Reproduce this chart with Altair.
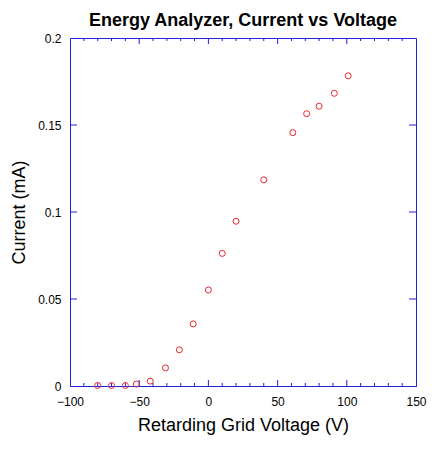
import altair as alt
import pandas as pd

voltage = [-80, -70, -60, -52, -42, -31, -21, -11, 0, 10, 20, 40, 61, 71, 80, 91, 101]
current = [0.0003, 0.0003, 0.0003, 0.0011, 0.0028, 0.0104, 0.0208, 0.0357, 0.0552,
           0.0762, 0.0947, 0.1185, 0.1456, 0.1565, 0.1608, 0.1682, 0.1783]

x_labels = [-100, -50, 0, 50, 100, 150]
x_major = [-50, 0, 50, 100]
x_minor = [v for v in range(-90, 150, 10) if v % 50 != 0]
y_labels = [0, 0.05, 0.1, 0.15, 0.2]
y_major = [0.05, 0.1, 0.15]

W, H = 346, 348
BLUE = "#2020e0"
RED = "#e8262a"
FONT = "Liberation Sans"

xscale = alt.Scale(domain=[-100, 150], nice=False, zero=False)
yscale = alt.Scale(domain=[0, 0.2], nice=False, zero=False)

xaxis = alt.Axis(values=x_labels, ticks=False, grid=False, domainColor=BLUE,
                 labelFlush=False, labelPadding=10, labelFontSize=12, labelColor="black",
                 title="Retarding Grid Voltage (V)", titleFontSize=18, titleFontWeight="normal",
                 titlePadding=9, titleColor="black", labelFont=FONT, titleFont=FONT)
yaxis = alt.Axis(values=y_labels, ticks=False, grid=False, domainColor=BLUE,
                 format="~g", labelFlush=False, labelPadding=9, labelFontSize=12, labelColor="black",
                 title="Current (mA)", titleFontSize=18, titleFontWeight="normal",
                 titlePadding=9, titleColor="black", labelFont=FONT, titleFont=FONT)

X = lambda f: alt.X(f, scale=xscale, axis=xaxis)
Y = lambda f: alt.Y(f, scale=yscale, axis=yaxis)

pts = alt.Chart(pd.DataFrame({"v": voltage, "c": current})).mark_point(
    shape="circle", filled=False, color=RED, size=36, strokeWidth=1, opacity=1
).encode(x=X("v:Q"), y=Y("c:Q"))

xmaj = pd.DataFrame({"v": x_major})
xmin = pd.DataFrame({"v": x_minor})
ymaj = pd.DataFrame({"c": y_major})

def rule(df, **enc):
    return alt.Chart(df).mark_rule(color=BLUE, strokeWidth=1).encode(**enc)

layers = [
    rule(xmaj, x=X("v:Q"), y=alt.value(H), y2=alt.value(H - 6)),
    rule(xmaj, x=X("v:Q"), y=alt.value(0), y2=alt.value(6)),
    rule(xmin, x=X("v:Q"), y=alt.value(H), y2=alt.value(H - 3)),
    rule(xmin, x=X("v:Q"), y=alt.value(0), y2=alt.value(3)),
    rule(ymaj, y=Y("c:Q"), x=alt.value(0), x2=alt.value(7)),
    rule(ymaj, y=Y("c:Q"), x=alt.value(W), x2=alt.value(W - 7)),
    pts,
]

chart = alt.layer(*layers).properties(
    width=W, height=H,
    autosize="none",
    padding={"left": 62, "top": 30, "right": 14, "bottom": 56},
    title=alt.TitleParams("Energy Analyzer, Current vs Voltage", fontSize=18,
                          fontWeight="bold", font=FONT, color="black", offset=2),
).configure_view(stroke=BLUE, strokeWidth=1)

chart.save("out.html", embed_options={"renderer": "svg", "actions": False})
